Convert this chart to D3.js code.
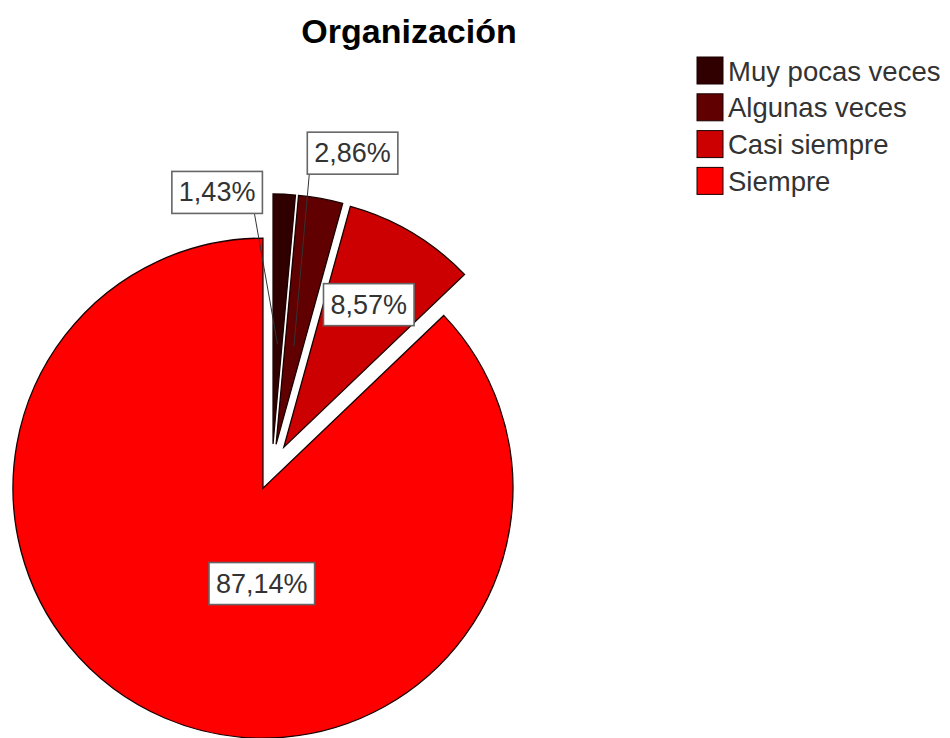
<!DOCTYPE html>
<html>
<head>
<meta charset="utf-8">
<script src="https://cdn.jsdelivr.net/npm/d3@7"></script>
<style>
  html, body { margin: 0; padding: 0; background: #ffffff; }
  svg { display: block; }
</style>
</head>
<body>
<svg id="chart" width="950" height="738"></svg>
<script>
// Chart data
const title = "Organización";
const categories = ["Muy pocas veces", "Algunas veces", "Casi siempre", "Siempre"];
const percents = [1.43, 2.86, 8.57, 87.14];
const colors = ["#300000", "#600000", "#cc0000", "#ff0000"];

// Layout
const W = 950, H = 738;
const cx = 272, cy = 467;      // pie centre
const radius = 250;
const explode = 23;            // every slice pulled out from the centre
// label placement: angle (deg, clockwise from 12 o'clock) and distance from centre
const labelPlace = [
  { angle: -11.3, dist: 280, leader: 0.4 },
  { angle: 14.4, dist: 324, leader: 0.4 },
  { angle: 30.8, dist: 189, leader: null },
  { angle: 185, dist: 117, leader: null }
];

const svg = d3.select("#chart");
const fmt = v => v.toFixed(2).replace(".", ",") + "%";

// Title
svg.append("text")
  .attr("x", 409).attr("y", 43)
  .attr("text-anchor", "middle")
  .attr("font-family", "Liberation Sans, Arial, sans-serif")
  .attr("font-weight", "bold")
  .attr("font-size", 34)
  .attr("fill", "#000")
  .text(title);

const pie = d3.pie().sort(null).value(d => d).startAngle(0).endAngle(2 * Math.PI);
const arcs = pie(percents);
const arc = d3.arc().innerRadius(0).outerRadius(radius);

const off = a => [Math.sin(a) * explode, -Math.cos(a) * explode];
const polar = (deg, r) => {
  const a = deg * Math.PI / 180;
  return [cx + Math.sin(a) * r, cy - Math.cos(a) * r];
};

const g = svg.append("g").attr("transform", `translate(${cx},${cy})`);

// Leader lines (drawn beneath the slices)
const leaders = svg.append("g");

// Slices
g.selectAll("path.slice")
  .data(arcs)
  .join("path")
  .attr("class", "slice")
  .attr("transform", d => {
    const m = (d.startAngle + d.endAngle) / 2;
    const [dx, dy] = off(m);
    return `translate(${dx},${dy})`;
  })
  .attr("d", arc)
  .attr("fill", (d, i) => colors[i])
  .attr("stroke", "#1a0000")
  .attr("stroke-width", 1.3)
  .attr("stroke-linejoin", "miter");

// Value labels
const labelFont = 27;
const lg = svg.append("g");
arcs.forEach((d, i) => {
  const p = labelPlace[i];
  const [lx, ly] = polar(p.angle, p.dist);
  const txt = fmt(percents[i]);
  const t = lg.append("text")
    .attr("x", lx).attr("y", ly)
    .attr("text-anchor", "middle")
    .attr("dominant-baseline", "central")
    .attr("font-family", "Liberation Sans, Arial, sans-serif")
    .attr("font-size", labelFont)
    .attr("fill", "#333")
    .text(txt);
  const bb = t.node().getBBox();
  const bw = bb.width + 14, bh = 42;
  lg.insert("rect", "text")
    .attr("x", lx - bw / 2).attr("y", ly - bh / 2)
    .attr("width", bw).attr("height", bh)
    .attr("fill", "#fff")
    .attr("stroke", "#666")
    .attr("stroke-width", 1.6);
  if (p.leader !== null) {
    const m = (d.startAngle + d.endAngle) / 2;
    const [dx, dy] = off(m);
    const tx = cx + dx + Math.sin(m) * radius * p.leader;
    const ty = cy + dy - Math.cos(m) * radius * p.leader;
    const sx = lx + (tx > lx ? bw / 2 - 8 : -bw / 2 + 2);
    const sy = ly + bh / 2;
    leaders.append("line")
      .attr("x1", sx).attr("y1", sy)
      .attr("x2", tx).attr("y2", ty)
      .attr("stroke", "#333")
      .attr("stroke-width", 1);
  }
});

// Legend
const legend = svg.append("g").attr("transform", "translate(697,57)");
const rowH = 36.8;
categories.forEach((c, i) => {
  const row = legend.append("g").attr("transform", `translate(0,${i * rowH})`);
  row.append("rect")
    .attr("x", 0).attr("y", 0)
    .attr("width", 26).attr("height", 27)
    .attr("fill", colors[i])
    .attr("stroke", "#1a0000")
    .attr("stroke-width", 1);
  row.append("text")
    .attr("x", 31).attr("y", 14)
    .attr("dominant-baseline", "central")
    .attr("font-family", "Liberation Sans, Arial, sans-serif")
    .attr("font-size", 27.5)
    .attr("fill", "#333")
    .text(c);
});
</script>
</body>
</html>
